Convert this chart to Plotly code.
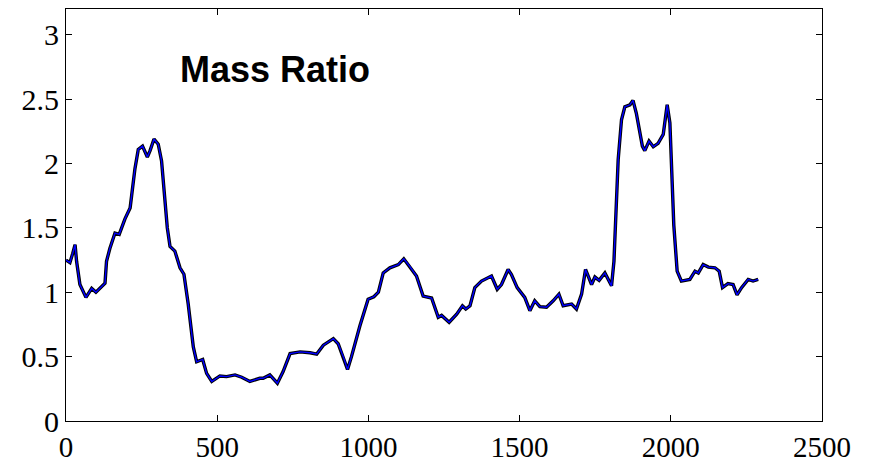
import plotly.graph_objects as go

x_vals = [0, 13, 22, 30, 35, 46, 66, 85, 99, 118, 129, 134, 145, 162, 176, 195, 212, 217,
          228, 239, 253, 269, 278, 291, 305, 316, 327, 335, 344, 360, 377, 390, 404, 421,
          432, 452, 465, 482, 509, 531, 559, 581, 608, 641, 652, 674, 699, 718, 741, 774,
          807, 829, 851, 884, 900, 917, 931, 944, 972, 999, 1018, 1033, 1049, 1071, 1099,
          1117, 1137, 1159, 1181, 1209, 1231, 1242, 1267, 1292, 1311, 1322, 1336, 1352,
          1374, 1407, 1426, 1440, 1462, 1473, 1492, 1517, 1534, 1550, 1567, 1589, 1611,
          1630, 1644, 1672, 1688, 1705, 1718, 1738, 1749, 1763, 1782, 1798, 1804, 1812,
          1817, 1826, 1837, 1848, 1865, 1875, 1886, 1898, 1906, 1914, 1928, 1942, 1958,
          1975, 1988, 1997, 2002, 2010, 2021, 2035, 2063, 2080, 2091, 2107, 2124, 2146,
          2160, 2171, 2189, 2206, 2219, 2234, 2256, 2272, 2289]
mass_ratio = [1.25, 1.23, 1.30, 1.37, 1.24, 1.06, 0.96, 1.03, 1.00, 1.04, 1.07, 1.24, 1.34,
              1.46, 1.45, 1.57, 1.655, 1.75, 1.96, 2.11, 2.135, 2.05, 2.10, 2.19, 2.15, 2.02,
              1.73, 1.50, 1.356, 1.32, 1.19, 1.14, 0.91, 0.575, 0.46, 0.478, 0.37, 0.307,
              0.35, 0.345, 0.358, 0.34, 0.307, 0.332, 0.332, 0.358, 0.294, 0.384, 0.524,
              0.537, 0.53, 0.52, 0.589, 0.64, 0.60, 0.50, 0.40, 0.50, 0.74, 0.946, 0.965,
              1.0, 1.15, 1.19, 1.215, 1.26, 1.20, 1.126, 0.97, 0.955, 0.806, 0.82, 0.767,
              0.83, 0.895, 0.87, 0.895, 1.036, 1.087, 1.126, 1.023, 1.06, 1.177, 1.138,
              1.036, 0.96, 0.857, 0.934, 0.888, 0.883, 0.934, 0.985, 0.895, 0.908, 0.87,
              0.985, 1.177, 1.06, 1.118, 1.092, 1.15, 1.074, 1.05, 1.24, 1.50, 2.03, 2.34,
              2.44, 2.456, 2.49, 2.39, 2.25, 2.135, 2.10, 2.174, 2.13, 2.157, 2.226, 2.456,
              2.315, 1.957, 1.52, 1.164, 1.087, 1.10, 1.164, 1.15, 1.215, 1.195, 1.19, 1.164,
              1.036, 1.067, 1.06, 0.98, 1.036, 1.10, 1.087, 1.10]

x_ticks = [0, 500, 1000, 1500, 2000, 2500]
y_ticks = [0, 0.5, 1, 1.5, 2, 2.5, 3]
y_tick_text = ["0", "0.5", "1", "1.5", "2", "2.5", "3"]
title_text = "Mass Ratio"

fig = go.Figure()
fig.add_trace(go.Scatter(x=x_vals, y=mass_ratio, mode="lines",
                         line=dict(color="black", width=3.4), hoverinfo="skip",
                         showlegend=False))
fig.add_trace(go.Scatter(x=x_vals, y=mass_ratio, mode="lines",
                         line=dict(color="#0000ff", width=1.4),
                         showlegend=False))

axis_common = dict(showgrid=False, zeroline=False, showline=True, linecolor="black",
                   linewidth=1, mirror="ticks", ticks="inside", ticklen=6,
                   tickcolor="black", tickwidth=1, automargin=False)

fig.update_layout(
    width=875, height=464,
    margin=dict(l=66, r=53, t=9, b=43),
    paper_bgcolor="white", plot_bgcolor="white",
    xaxis=dict(range=[0, 2500], tickvals=x_ticks, ticktext=[str(v) for v in x_ticks],
               tickfont=dict(family="Liberation Serif", size=29, color="black"),
               **axis_common),
    yaxis=dict(range=[0, 3.2], tickvals=y_ticks, ticktext=y_tick_text,
               tickfont=dict(family="Liberation Serif", size=30, color="black"),
               **axis_common),
    annotations=[dict(text="<b>" + title_text + "</b>", x=370, y=2.73, xref="x", yref="y",
                      xanchor="left", yanchor="middle", showarrow=False,
                      font=dict(family="Liberation Sans", size=36, color="black"))],
)

fig.write_html("out.html")
